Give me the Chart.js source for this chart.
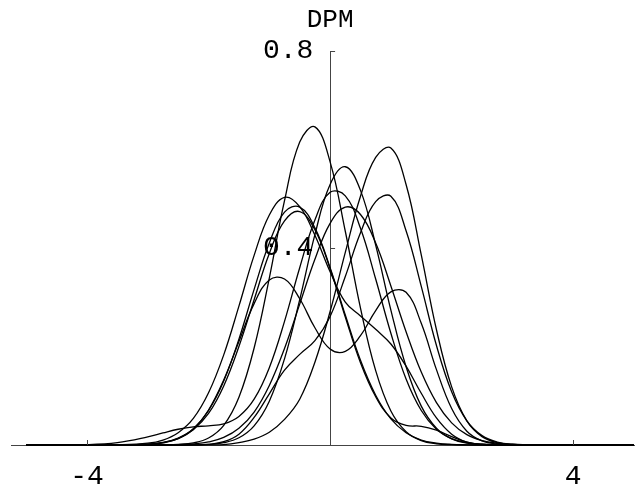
<!DOCTYPE html>
<html>
<head>
<meta charset="utf-8">
<script src="https://cdn.jsdelivr.net/npm/chart.js@4"></script>
<style>
  body { margin: 0; background: #fff; }
  #chart { display: block; }
</style>
</head>
<body>
<canvas id="chart" width="644" height="488"></canvas>
<script>
// x grid shared by every curve
const xValues = [-5, -4, -3.5, -3, -2.75, -2.5, -2.25, -2, -1.75, -1.5, -1.25, -1, -0.75, -0.5, -0.25,
    0, 0.25, 0.5, 0.75, 1, 1.25, 1.5, 1.75, 2, 2.25, 2.5, 2.75, 3, 3.5, 4, 5];

// densities
const curveA = [0, 0, 0, 0, 0.0002, 0.0011, 0.0042, 0.0142, 0.040, 0.097, 0.197, 0.339, 0.496, 0.615, 0.646,
    0.575, 0.434, 0.278, 0.151, 0.069, 0.027, 0.009, 0.0025, 0.0006, 0.0001, 0, 0, 0, 0, 0, 0];
const curveB = [0, 0, 0, 0, 0, 0, 0.0001, 0.0003, 0.0009, 0.005, 0.012, 0.026, 0.052, 0.093, 0.168,
    0.271, 0.391, 0.505, 0.584, 0.603, 0.529, 0.386, 0.234, 0.118, 0.049, 0.017, 0.0049, 0.0012, 0, 0, 0];
const curveC = [0, 0, 0, 0, 0, 0.0001, 0.0003, 0.0013, 0.0047, 0.0147, 0.039, 0.089, 0.175, 0.295, 0.427,
    0.529, 0.565, 0.517, 0.406, 0.274, 0.159, 0.079, 0.034, 0.0123, 0.0039, 0.0011, 0.0003, 0, 0, 0, 0];
const curveD = [0, 0.0008, 0.0047, 0.0164, 0.0245, 0.032, 0.037, 0.039, 0.043, 0.058, 0.093, 0.157, 0.251, 0.36, 0.457,
    0.513, 0.506, 0.44, 0.337, 0.227, 0.134, 0.070, 0.032, 0.013, 0.0046, 0.0015, 0.0004, 0.0001, 0, 0, 0];
const curveE = [0, 0, 0, 0, 0, 0, 0.0002, 0.0014, 0.0067, 0.022, 0.056, 0.104, 0.152, 0.184, 0.212,
    0.261, 0.342, 0.431, 0.494, 0.505, 0.435, 0.322, 0.202, 0.108, 0.049, 0.019, 0.006, 0.0017, 0.0001, 0, 0];
const curveF = [0, 0, 0, 0.0001, 0.0002, 0.0008, 0.0023, 0.0062, 0.0154, 0.034, 0.067, 0.121, 0.196, 0.286, 0.377,
    0.45, 0.483, 0.468, 0.41, 0.323, 0.23, 0.148, 0.086, 0.045, 0.021, 0.009, 0.0035, 0.0012, 0.0001, 0, 0];
const curveG = [0, 0, 0.0003, 0.0036, 0.01, 0.025, 0.054, 0.106, 0.183, 0.282, 0.385, 0.467, 0.503, 0.484, 0.426,
    0.352, 0.29, 0.262, 0.235, 0.205, 0.16, 0.105, 0.055, 0.022, 0.006, 0.0012, 0.0002, 0, 0, 0, 0];
const curveH = [0, 0, 0.0001, 0.0017, 0.0052, 0.014, 0.033, 0.07, 0.13, 0.215, 0.316, 0.41, 0.473, 0.483, 0.441,
    0.36, 0.264, 0.172, 0.101, 0.053, 0.025, 0.010, 0.0039, 0.0013, 0.0004, 0.0001, 0, 0, 0, 0, 0];
const curveI = [0, 0, 0.0001, 0.0016, 0.0049, 0.013, 0.031, 0.064, 0.12, 0.2, 0.295, 0.389, 0.455, 0.474, 0.437,
    0.358, 0.26, 0.167, 0.098, 0.055, 0.04, 0.038, 0.03, 0.017, 0.0057, 0.0011, 0.0001, 0, 0, 0, 0];
const curveJ = [0, 0, 0.0001, 0.0012, 0.0043, 0.0128, 0.0325, 0.071, 0.132, 0.21, 0.287, 0.335, 0.337, 0.297, 0.238,
    0.195, 0.19, 0.222, 0.273, 0.311, 0.31, 0.247, 0.153, 0.074, 0.028, 0.0082, 0.0019, 0.0003, 0, 0, 0];

const curves = [curveA, curveB, curveC, curveD, curveE, curveF, curveG, curveH, curveI, curveJ];

const xTicks = [-4, 4];
const yTicks = [0.4, 0.8];
const yTitle = 'DPM';

const monoFont = 'Liberation Mono, Courier New, monospace';

// small inward tick marks + axis title, Mathematica style
const axisExtras = {
    id: 'axisExtras',
    afterDraw(chart) {
        const ctx = chart.ctx;
        const xs = chart.scales.x;
        const ys = chart.scales.y;
        const x0 = xs.getPixelForValue(0);
        const y0 = ys.getPixelForValue(0);
        ctx.save();
        ctx.strokeStyle = '#444';
        ctx.lineWidth = 1;
        ctx.beginPath();
        xTicks.forEach(v => {
            const px = Math.round(xs.getPixelForValue(v)) + 0.5;
            ctx.moveTo(px, y0);
            ctx.lineTo(px, y0 - 5);
        });
        yTicks.forEach(v => {
            const py = Math.round(ys.getPixelForValue(v)) + 0.5;
            ctx.moveTo(x0, py);
            ctx.lineTo(x0 + 5, py);
        });
        ctx.stroke();
        ctx.fillStyle = '#000';
        ctx.font = '26px ' + monoFont;
        ctx.textAlign = 'center';
        ctx.textBaseline = 'middle';
        ctx.fillText(yTitle, x0, 20);
        ctx.restore();
    }
};

new Chart(document.getElementById('chart'), {
    type: 'line',
    data: {
        datasets: curves.map(c => ({
            data: xValues.map((x, i) => ({ x: x, y: c[i] })),
            borderColor: '#000',
            borderWidth: 1.3,
            pointRadius: 0,
            tension: 0.4,
            fill: false,
            clip: false
        }))
    },
    options: {
        responsive: false,
        devicePixelRatio: 1,
        animation: false,
        layout: { padding: { top: 51, bottom: 43, left: 11, right: 10 } },
        plugins: {
            legend: { display: false },
            tooltip: { enabled: false }
        },
        scales: {
            x: {
                type: 'linear',
                min: -5.25,
                max: 5,
                position: { y: 0 },
                afterBuildTicks: s => { s.ticks = xTicks.map(v => ({ value: v })); },
                grid: { display: false, drawTicks: false },
                border: { display: true, color: '#444', width: 1 },
                ticks: {
                    color: '#000',
                    font: { family: monoFont, size: 28 },
                    padding: 15,
                    maxRotation: 0,
                    autoSkip: false,
                    callback: v => String(v)
                }
            },
            y: {
                type: 'linear',
                min: 0,
                max: 0.8,
                position: { x: 0 },
                afterBuildTicks: s => { s.ticks = yTicks.map(v => ({ value: v })); },
                grid: { display: false, drawTicks: false },
                border: { display: true, color: '#444', width: 1 },
                ticks: {
                    color: '#000',
                    font: { family: monoFont, size: 28 },
                    autoSkip: false,
                    // value-positioned axes ignore padding, so a trailing space keeps labels off the axis
                    callback: v => v.toFixed(1) + ' '
                }
            }
        }
    },
    plugins: [axisExtras]
});
</script>
</body>
</html>
